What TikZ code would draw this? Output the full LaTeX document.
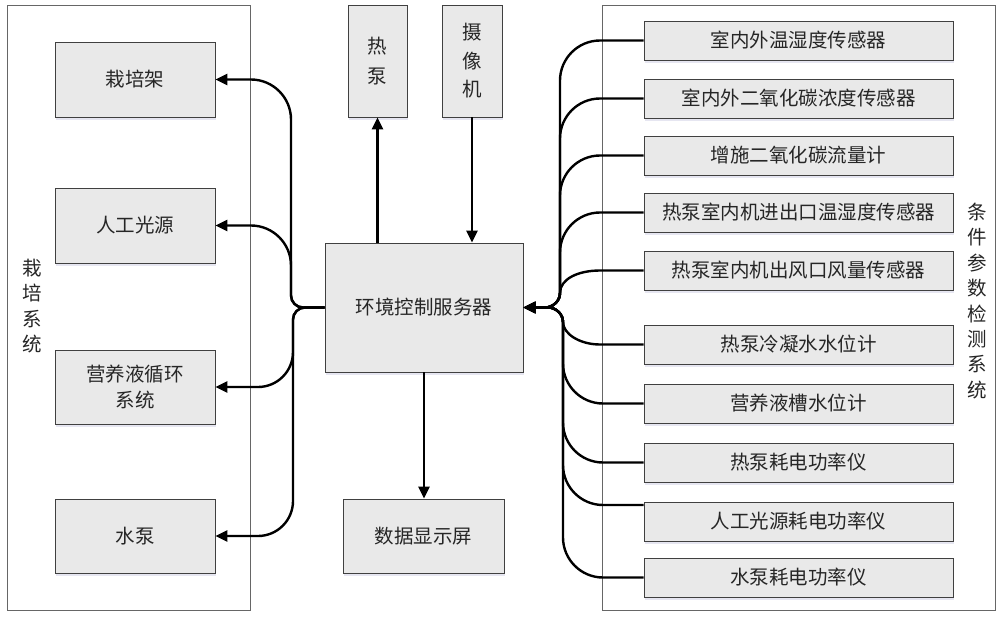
\documentclass[tikz,border=0pt]{standalone}
\usepackage{fontspec}
\setmainfont{Noto Sans CJK SC}
\usetikzlibrary{arrows.meta,shadows}
\begin{document}
\begin{tikzpicture}[x=1pt,y=-1pt,
  box/.style={draw=black!75, line width=0.9pt, fill=gray!17, inner sep=0pt, align=center,
    text=black!85, font=\fontsize{19.5}{26}\selectfont,
    drop shadow={opacity=0.25, fill=blue!30!gray!60, shadow xshift=0.5pt, shadow yshift=-2.5pt}},
  frame/.style={draw=black!60, line width=0.9pt},
  conn/.style={line width=2.4pt, black},
  arr/.style={conn, -{Triangle[length=12pt,width=11pt]}},
  vlabel/.style={align=center, text=black!85, font=\fontsize{19.5}{25.4}\selectfont}]
\useasboundingbox (0,0) rectangle (1000,621);
\fill[white] (0,0) rectangle (1000,621);
% frames
\draw[frame] (7,5) rectangle (250,610);
\draw[frame] (602,5) rectangle (995,610);
\node[vlabel] (lsys) at (32,306) {栽\\培\\系\\统};
\node[vlabel] (rsys) at (977,301) {条\\件\\参\\数\\检\\测\\系\\统};
% left boxes
\node[box, minimum width=160, minimum height=75] (farm) at (135,79.5) {栽培架};
\node[box, minimum width=160, minimum height=75] (light) at (135,225.5) {人工光源};
\node[box, minimum width=160, minimum height=74] (nutr) at (135,387) {营养液循环\\系统};
\node[box, minimum width=160, minimum height=74] (pump) at (135,536) {水泵};
% center
\node[box, minimum width=198, minimum height=129] (srv) at (424,307.5) {环境控制服务器};
\node[box, minimum width=59, minimum height=112, font=\fontsize{19.5}{30}\selectfont] (hp) at (377.5,61) {热\\泵};
\node[box, minimum width=60, minimum height=112, font=\fontsize{19.5}{28.5}\selectfont] (cam) at (472,61) {摄\\像\\机};
\node[box, minimum width=161, minimum height=74] (disp) at (423.5,536) {数据显示屏};
% right boxes
\foreach \n/\y/\t in {r1/40.5/室内外温湿度传感器, r2/98.5/室内外二氧化碳浓度传感器, r3/155.5/增施二氧化碳流量计,
  r4/212.5/热泵室内机进出口温湿度传感器, r5/270.5/热泵室内机出风口风量传感器, r6/344.5/热泵冷凝水水位计,
  r7/403.5/营养液槽水位计, r8/462.5/热泵耗电功率仪, r9/521.5/人工光源耗电功率仪, r10/577.5/水泵耗电功率仪}
  \node[box, minimum width=309, minimum height=39] (\n) at (798.5,\y) {\t};
% center connectors
\draw[arr] (srv.north -| hp.south) -- (hp.south);
\draw[arr] (cam.south) -- (cam.south |- srv.north);
\draw[arr] (srv.south) -- (srv.south |- disp.north);
% left connectors
\draw[arr] (srv.west) -- (303,307.5) .. controls (296.4,307.5) and (291,302.1) .. (291,295.5) -- (291,119.5) .. controls (291,97.5) and (273,79.5) .. (251,79.5) -- (farm.east);
\draw[arr] (srv.west) -- (303,307.5) .. controls (296.4,307.5) and (291,302.1) .. (291,295.5) -- (291,265.5) .. controls (291,243.5) and (273,225.5) .. (251,225.5) -- (light.east);
\draw[arr] (srv.west) -- (305,307.5) .. controls (298.4,307.5) and (293,312.9) .. (293,319.5) -- (293,352) .. controls (293,371.3) and (277.3,387) .. (258,387) -- (nutr.east);
\draw[arr] (srv.west) -- (305,307.5) .. controls (298.4,307.5) and (293,312.9) .. (293,319.5) -- (293,501) .. controls (293,520.3) and (277.3,536) .. (258,536) -- (pump.east);
% right connectors (upper bus)
\foreach \n/\y in {r1/40.5, r2/98.5, r3/155.5, r4/212.5}
  \draw[arr] (\n.west) -- (600,\y) .. controls (578,\y) and (560,\y+18) .. (560,\y+40) -- (560,293) .. controls (560,301) and (553,307.5) .. (545,307.5) -- (srv.east);
\draw[arr] (r5.west) -- (600,270.5) .. controls (578,270.5) and (560,279) .. (560,293) .. controls (560,301) and (553,307.5) .. (545,307.5) -- (srv.east);
% right connectors (lower bus)
\draw[arr] (r6.west) -- (600,344.5) .. controls (580,344.5) and (563,334) .. (563,322) .. controls (563,314) and (556,307.5) .. (548,307.5) -- (srv.east);
\foreach \n/\y in {r7/403.5, r8/462.5, r10/577.5}
  \draw[arr] (\n.west) -- (603,\y) .. controls (581,\y) and (563,\y-18) .. (563,\y-40) -- (563,322) .. controls (563,314) and (556,307.5) .. (548,307.5) -- (srv.east);
\draw[arr] (r9.west |- 0,505) -- (603,505) .. controls (581,505) and (563,487) .. (563,465) -- (563,322) .. controls (563,314) and (556,307.5) .. (548,307.5) -- (srv.east);
\end{tikzpicture}
\end{document}
